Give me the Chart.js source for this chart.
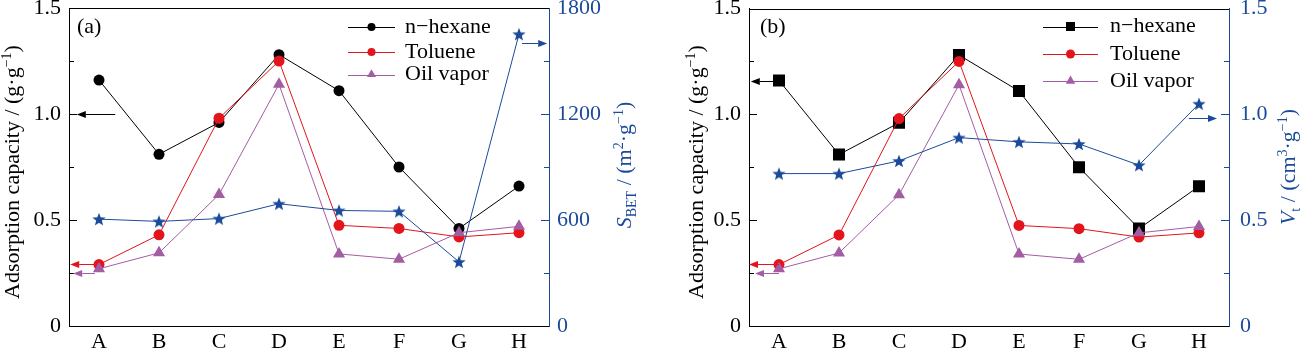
<!DOCTYPE html>
<html><head><meta charset="utf-8">
<script src="https://cdn.jsdelivr.net/npm/chart.js@4/dist/chart.umd.min.js"></script>
<style>
html,body{margin:0;padding:0;background:#fff;width:1300px;height:352px;overflow:hidden}
.wrap{position:absolute;top:0;height:352px;width:650px}
#wa{left:0} #wb{left:650px}
canvas{display:block}
</style></head><body>
<div class="wrap" id="wa"><canvas id="ca" width="650" height="352"></canvas></div>
<div class="wrap" id="wb"><canvas id="cb" width="650" height="352"></canvas></div>
<script>
// ---- data ----
const categories = ['A','B','C','D','E','F','G','H'];
const nHexane  = [1.16, 0.81, 0.96, 1.28, 1.11, 0.75, 0.46, 0.66];
const toluene  = [0.29, 0.43, 0.98, 1.25, 0.475, 0.46, 0.42, 0.44];
const oilVapor = [0.27, 0.345, 0.62, 1.14, 0.34, 0.315, 0.44, 0.47];
const sBET     = [605, 592, 608, 692, 654, 649, 363, 1652];
const vT       = [0.72, 0.72, 0.78, 0.89, 0.87, 0.86, 0.76, 1.05];
const capTicks  = [0, 0.5, 1.0, 1.5];
const sBetTicks = [0, 600, 1200, 1800];
const vTTicks   = [0, 0.5, 1.0, 1.5];
// annotation arrows (category index along x, axis value along y)
const arrowsA = [
  {axis:'y',  y:1.0,   from:0.27,  to:-0.37, c:'black'},
  {axis:'y',  y:0.293, from:-0.05, to:-0.48, c:'red'},
  {axis:'y',  y:0.248, from:-0.07, to:-0.43, c:'purple'},
  {axis:'y1', y:1600,  from:7.05,  to:7.47,  c:'blue'}
];
const arrowsB = [
  {axis:'y',  y:1.157, from:0,     to:-0.47, c:'black'},
  {axis:'y',  y:0.295, from:0,     to:-0.5,  c:'red'},
  {axis:'y',  y:0.25,  from:0,     to:-0.4,  c:'purple'},
  {axis:'y1', y:0.985, from:6.83,  to:7.3,   c:'blue'}
];

const COL = {black:'#000000', red:'#e3141c', purple:'#a35da3', blue:'#1c4a9a'};
const FONT = '"Liberation Serif", "Times New Roman", serif';
const FS = 22;

function makeStar(R, color){
  const s = Math.ceil(R*2+2);
  const c = document.createElement('canvas'); c.width = s; c.height = s;
  const g = c.getContext('2d');
  g.fillStyle = color; g.beginPath();
  for (let i=0;i<10;i++){
    const r = i%2 ? R*0.42 : R;
    const a = -Math.PI/2 + i*Math.PI/5;
    const x = s/2 + r*Math.cos(a), y = s/2 + r*Math.sin(a) + R*0.1;
    if (i) g.lineTo(x,y); else g.moveTo(x,y);
  }
  g.closePath(); g.fill();
  return c;
}
const starImg = makeStar(7, COL.blue);

function fmtDec(v){ return v === 0 ? '0' : v.toFixed(1); }
function fmtInt(v){ return String(v); }

function drawRich(ctx, segs, baseX, cy, color){
  ctx.save();
  ctx.translate(baseX, cy);
  ctx.rotate(-Math.PI/2);
  ctx.fillStyle = color;
  ctx.textBaseline = 'alphabetic';
  ctx.textAlign = 'left';
  const f = s => `${s.it?'italic ':''}${(s.sub||s.sup)?14:FS}px ${FONT}`;
  let total = 0;
  segs.forEach(s => { ctx.font = f(s); s.w = ctx.measureText(s.t).width; total += s.w; });
  let x = -total/2;
  segs.forEach(s => {
    ctx.font = f(s);
    const dy = s.sup ? -8 : (s.sub ? 5 : 0);
    ctx.fillText(s.t, x, dy);
    x += s.w;
  });
  ctx.restore();
}

function drawMarker(ctx, style, x, y, r, color){
  ctx.save();
  ctx.fillStyle = color; ctx.beginPath();
  if (style === 'circle') { ctx.arc(x, y, r, 0, Math.PI*2); }
  else if (style === 'rect') { ctx.rect(x-r, y-r, 2*r, 2*r); }
  else if (style === 'triangle') {
    ctx.moveTo(x, y - r); ctx.lineTo(x + r*0.866, y + r*0.5); ctx.lineTo(x - r*0.866, y + r*0.5); ctx.closePath();
  }
  ctx.fill(); ctx.restore();
}

const decor = {
  id: 'decor',
  afterDatasetsDraw(chart, args, o) {
    const ctx = chart.ctx, ca = chart.chartArea;
    const xs = chart.scales.x;
    ctx.save();
    // top frame line
    ctx.strokeStyle = '#000'; ctx.lineWidth = 1;
    ctx.beginPath(); ctx.moveTo(ca.left, Math.round(ca.top)+0.5); ctx.lineTo(ca.right, Math.round(ca.top)+0.5); ctx.stroke();
    // inward ticks
    o.tickAxes.forEach(t => {
      const sc = chart.scales[t.id];
      ctx.strokeStyle = t.color;
      for (let v = sc.min; v <= sc.max + 1e-9; v += t.minor) {
        const major = Math.abs(v / t.major - Math.round(v / t.major)) < 1e-6;
        if (v === sc.min || Math.abs(v - sc.max) < 1e-9) continue;
        const len = major ? 8 : 5;
        const py = Math.round(sc.getPixelForValue(v)) + 0.5;
        ctx.beginPath();
        if (sc.position === 'left') { ctx.moveTo(ca.left, py); ctx.lineTo(ca.left + len, py); }
        else { ctx.moveTo(ca.right, py); ctx.lineTo(ca.right - len, py); }
        ctx.stroke();
      }
    });
    // arrows
    o.arrows.forEach(a => {
      const sc = chart.scales[a.axis];
      const py = Math.round(sc.getPixelForValue(a.y)) + 0.5;
      const x0 = xs.getPixelForValue(a.from), x1 = xs.getPixelForValue(a.to);
      const dir = Math.sign(x1 - x0), hl = 9, hw = 3.5;
      ctx.strokeStyle = COL[a.c]; ctx.fillStyle = COL[a.c]; ctx.lineWidth = 1;
      ctx.beginPath(); ctx.moveTo(x0, py); ctx.lineTo(x1 - dir*hl, py); ctx.stroke();
      ctx.beginPath(); ctx.moveTo(x1, py); ctx.lineTo(x1 - dir*hl, py - hw); ctx.lineTo(x1 - dir*hl, py + hw); ctx.closePath(); ctx.fill();
    });
    ctx.restore();
  },
  afterDraw(chart, args, o) {
    const ctx = chart.ctx, ca = chart.chartArea;
    // axis titles
    drawRich(ctx, o.leftTitle, o.leftTitleX, 172, '#000');
    drawRich(ctx, o.rightTitle, o.rightTitleX, o.rightTitleY, COL.blue);
    // panel label
    ctx.save();
    ctx.font = `${FS}px ${FONT}`; ctx.fillStyle = '#000'; ctx.textBaseline = 'middle'; ctx.textAlign = 'left';
    ctx.fillText(o.panel, ca.left + o.panelDx, ca.top + 19);
    // legend
    const L = o.legend;
    chart.data.datasets.forEach((ds, i) => {
      if (!ds.inLegend) return;
      const y = ca.top + L.rows[i];
      const x0 = ca.right - L.fromRight;
      ctx.strokeStyle = ds.borderColor; ctx.lineWidth = 1;
      ctx.beginPath(); ctx.moveTo(x0, Math.round(y)+0.5); ctx.lineTo(x0 + L.len, Math.round(y)+0.5); ctx.stroke();
      drawMarker(ctx, ds.legendStyle, x0 + L.len/2, y, ds.legendR, ds.backgroundColor);
      ctx.font = `${FS}px ${FONT}`; ctx.fillStyle = '#000'; ctx.textBaseline = 'middle'; ctx.textAlign = 'left';
      ctx.fillText(ds.label, x0 + L.textDx, y);
    });
    ctx.restore();
  }
};

function lineDs(label, data, color, style, r, lr, order, legendStyle) {
  return {label, data, borderColor: color, backgroundColor: color, pointBackgroundColor: color,
    pointBorderColor: color, pointStyle: style, pointRadius: r, pointBorderWidth: 0,
    borderWidth: 1, tension: 0, order, inLegend: true, legendStyle, legendR: lr, yAxisID: 'y'};
}

function build(id, cfg) {
  const ySc = (pos, w, ticksArr, color, fmt, pad) => ({
    position: pos, min: ticksArr[0], max: ticksArr[ticksArr.length-1],
    grid: {display: false, drawTicks: false},
    border: {display: true, color: color, width: 1},
    ticks: {color: color, font: {family: FONT, size: FS}, padding: pad, callback: v => fmt(v)},
    afterBuildTicks: s => { s.ticks = ticksArr.map(v => ({value: v})); },
    afterFit: s => { s.width = w; s.paddingTop = 0; s.paddingBottom = 0; }
  });
  return new Chart(document.getElementById(id), {
    type: 'line',
    data: {labels: categories, datasets: cfg.datasets},
    options: {
      responsive: false, animation: false, devicePixelRatio: 1, events: [],
      layout: {padding: {top: 7, left: 0, right: 0, bottom: 0}},
      plugins: {legend: {display: false}, tooltip: {enabled: false}, decor: cfg.decor},
      scales: {
        x: {type: 'category', offset: true, grid: {display: false, drawTicks: false},
            border: {display: true, color: '#000', width: 1},
            ticks: {color: '#000', font: {family: FONT, size: FS}, padding: 3, maxRotation: 0, autoSkip: false},
            afterFit: s => { s.height = 26; s.paddingLeft = 0; s.paddingRight = 0; }},
        y: ySc('left', cfg.leftW, capTicks, '#000', fmtDec, 8),
        y1: ySc('right', cfg.rightW, cfg.rightTicks, COL.blue, cfg.rightFmt, cfg.rightPad)
      }
    },
    plugins: [decor]
  });
}

const leftTitle = [{t:'Adsorption capacity / (g·g'},{t:'−1',sup:1},{t:')'}];

build('ca', {
  leftW: 69, rightW: 101, rightTicks: sBetTicks, rightFmt: fmtInt, rightPad: 8,
  datasets: [
    lineDs('n−hexane', nHexane, COL.black, 'circle', 5.5, 4, 4, 'circle'),
    lineDs('Toluene', toluene, COL.red, 'circle', 5.5, 4, 3, 'circle'),
    lineDs('Oil vapor', oilVapor, COL.purple, 'triangle', 7, 5.2, 2, 'triangle'),
    {label: 'SBET', data: sBET, yAxisID: 'y1', borderColor: COL.blue, backgroundColor: COL.blue,
     pointStyle: starImg, pointRadius: 7, borderWidth: 1, tension: 0, order: 1, inLegend: false}
  ],
  decor: {
    panel: '(a)', panelDx: 8,
    tickAxes: [{id:'y', major:0.5, minor:0.25, color:'#000'}, {id:'y1', major:600, minor:300, color:COL.blue}],
    arrows: arrowsA,
    leftTitle: leftTitle, leftTitleX: 19,
    rightTitle: [{t:'S',it:1},{t:'BET',sub:1},{t:' / (m'},{t:'2',sup:1},{t:'·g'},{t:'−1',sup:1},{t:')'}],
    rightTitleX: 631, rightTitleY: 165,
    legend: {fromRight: 201, len: 47, textDx: 57, rows: [19, 44, 66.5]}
  }
});

build('cb', {
  leftW: 99, rightW: 71, rightTicks: vTTicks, rightFmt: fmtDec, rightPad: 11,
  datasets: [
    lineDs('n−hexane', nHexane, COL.black, 'rect', 8.5, 4.5, 4, 'rect'),
    lineDs('Toluene', toluene, COL.red, 'circle', 5.5, 4.5, 3, 'circle'),
    lineDs('Oil vapor', oilVapor, COL.purple, 'triangle', 7, 5.5, 2, 'triangle'),
    {label: 'Vt', data: vT, yAxisID: 'y1', borderColor: COL.blue, backgroundColor: COL.blue,
     pointStyle: starImg, pointRadius: 7, borderWidth: 1, tension: 0, order: 1, inLegend: false}
  ],
  decor: {
    panel: '(b)', panelDx: 11,
    tickAxes: [{id:'y', major:0.5, minor:0.25, color:'#000'}, {id:'y1', major:0.5, minor:0.25, color:COL.blue}],
    arrows: arrowsB,
    leftTitle: leftTitle, leftTitleX: 53,
    rightTitle: [{t:'V',it:1},{t:'t',sub:1},{t:' / (cm'},{t:'3',sup:1},{t:'·g'},{t:'−1',sup:1},{t:')'}],
    rightTitleX: 645, rightTitleY: 167,
    legend: {fromRight: 186, len: 55, textDx: 67, rows: [18, 45.5, 72.5]}
  }
});
</script>
</body></html>
